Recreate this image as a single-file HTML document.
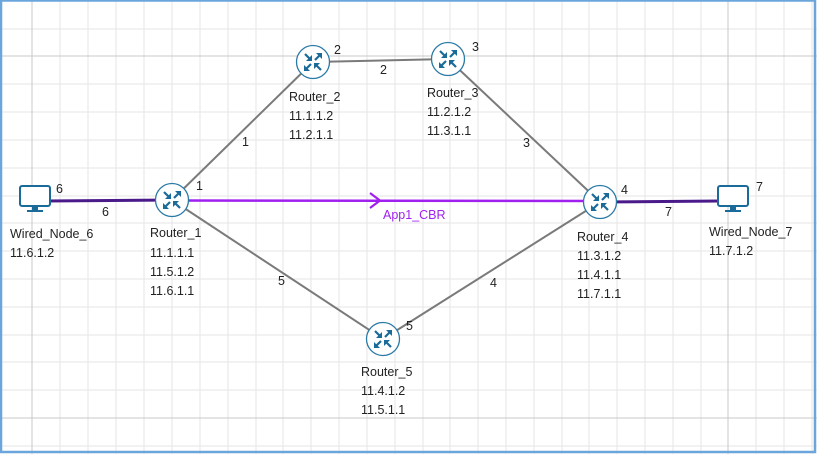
<!DOCTYPE html>
<html><head><meta charset="utf-8"><style>
html,body{margin:0;padding:0;background:#fff}
svg{display:block}
text{font-family:"Liberation Sans",sans-serif;font-size:12.5px;fill:#222}
</style></head><body>
<svg width="817" height="454" viewBox="0 0 817 454" xmlns="http://www.w3.org/2000/svg">
<defs>
<g id="rt">
<circle r="16.5" fill="#fff" stroke="#2a7aa6" stroke-width="1.3"/>
<g stroke="#1b6b9a" stroke-width="2.2" fill="#1b6b9a">
<line x1="2" y1="-2" x2="8" y2="-8"/><polygon points="9,-9 3,-9 9,-3" stroke="none"/>
<line x1="-2" y1="2" x2="-8" y2="8"/><polygon points="-9,9 -3,9 -9,3" stroke="none"/>
<line x1="-8" y1="-8" x2="-3" y2="-3"/><polygon points="-1,-1 -7,-1 -1,-7" stroke="none"/>
<line x1="8" y1="8" x2="3" y2="3"/><polygon points="1,1 7,1 1,7" stroke="none"/>
</g>
</g>
<g id="pc">
<rect x="-15" y="-13" width="30" height="20" rx="2" fill="#fff" stroke="#1b6b9a" stroke-width="2"/>
<rect x="-3" y="7" width="6" height="4" fill="#1b6b9a"/>
<rect x="-8" y="11" width="16" height="2" fill="#1b6b9a"/>
</g>
</defs>
<g stroke="#e6e6e6" stroke-width="1">
<line x1="60" y1="0" x2="60" y2="454"/><line x1="88" y1="0" x2="88" y2="454"/><line x1="116" y1="0" x2="116" y2="454"/><line x1="144" y1="0" x2="144" y2="454"/><line x1="172" y1="0" x2="172" y2="454"/><line x1="200" y1="0" x2="200" y2="454"/><line x1="228" y1="0" x2="228" y2="454"/><line x1="256" y1="0" x2="256" y2="454"/><line x1="283" y1="0" x2="283" y2="454"/><line x1="311" y1="0" x2="311" y2="454"/><line x1="339" y1="0" x2="339" y2="454"/><line x1="367" y1="0" x2="367" y2="454"/><line x1="395" y1="0" x2="395" y2="454"/><line x1="423" y1="0" x2="423" y2="454"/><line x1="450" y1="0" x2="450" y2="454"/><line x1="478" y1="0" x2="478" y2="454"/><line x1="506" y1="0" x2="506" y2="454"/><line x1="534" y1="0" x2="534" y2="454"/><line x1="562" y1="0" x2="562" y2="454"/><line x1="589" y1="0" x2="589" y2="454"/><line x1="617" y1="0" x2="617" y2="454"/><line x1="645" y1="0" x2="645" y2="454"/><line x1="673" y1="0" x2="673" y2="454"/><line x1="701" y1="0" x2="701" y2="454"/><line x1="756" y1="0" x2="756" y2="454"/><line x1="784" y1="0" x2="784" y2="454"/><line x1="812" y1="0" x2="812" y2="454"/>
<line x1="0" y1="29" x2="817" y2="29"/><line x1="0" y1="84" x2="817" y2="84"/><line x1="0" y1="112" x2="817" y2="112"/><line x1="0" y1="140" x2="817" y2="140"/><line x1="0" y1="168" x2="817" y2="168"/><line x1="0" y1="196" x2="817" y2="196"/><line x1="0" y1="223" x2="817" y2="223"/><line x1="0" y1="251" x2="817" y2="251"/><line x1="0" y1="279" x2="817" y2="279"/><line x1="0" y1="307" x2="817" y2="307"/><line x1="0" y1="335" x2="817" y2="335"/><line x1="0" y1="362" x2="817" y2="362"/><line x1="0" y1="390" x2="817" y2="390"/><line x1="0" y1="446" x2="817" y2="446"/>
</g>
<g stroke="#c8c8c8" stroke-width="1">
<line x1="32" y1="0" x2="32" y2="454"/><line x1="728" y1="0" x2="728" y2="454"/>
<line x1="0" y1="56" x2="817" y2="56"/><line x1="0" y1="418" x2="817" y2="418"/>
</g>
<rect x="1" y="0.5" width="814" height="451.5" fill="none" stroke="#6aa6dc" stroke-width="2.5"/>
<g stroke="#7a7a7a" stroke-width="2">
<line x1="172" y1="200" x2="313" y2="62"/>
<line x1="313" y1="62" x2="448" y2="59"/>
<line x1="448" y1="59" x2="600" y2="202"/>
<line x1="172" y1="200" x2="383" y2="339"/>
<line x1="383" y1="339" x2="600" y2="202"/>
</g>
<line x1="46" y1="201" x2="172" y2="200" stroke="#4a1a8a" stroke-width="3"/>
<line x1="600" y1="202" x2="720" y2="201" stroke="#4a1a8a" stroke-width="3"/>
<line x1="172" y1="200.5" x2="600" y2="201" stroke="#a020f0" stroke-width="2.5"/>
<polyline points="370,193 380,200.5 370,208" fill="none" stroke="#a020f0" stroke-width="2.2"/>
<text x="383" y="219" style="fill:#a020f0">App1_CBR</text>
<use href="#rt" x="172" y="200"/><use href="#rt" x="313" y="62"/><use href="#rt" x="448" y="59"/><use href="#rt" x="600" y="202"/><use href="#rt" x="383" y="339"/>
<use href="#pc" x="35" y="199"/><use href="#pc" x="733" y="199"/>
<text x="56" y="193">6</text><text x="102" y="216">6</text><text x="196" y="190">1</text>
<text x="242" y="146">1</text><text x="334" y="54">2</text><text x="380" y="74">2</text><text x="472" y="51">3</text>
<text x="523" y="147">3</text><text x="621" y="194">4</text><text x="665" y="216">7</text><text x="756" y="191">7</text>
<text x="278" y="285">5</text><text x="490" y="287">4</text><text x="406" y="330">5</text>
<text x="10" y="238">Wired_Node_6</text><text x="10" y="257">11.6.1.2</text>
<text x="150" y="237">Router_1</text><text x="150" y="257">11.1.1.1</text><text x="150" y="276">11.5.1.2</text><text x="150" y="295">11.6.1.1</text>
<text x="289" y="101">Router_2</text><text x="289" y="120">11.1.1.2</text><text x="289" y="139">11.2.1.1</text>
<text x="427" y="97">Router_3</text><text x="427" y="116">11.2.1.2</text><text x="427" y="135">11.3.1.1</text>
<text x="577" y="241">Router_4</text><text x="577" y="260">11.3.1.2</text><text x="577" y="279">11.4.1.1</text><text x="577" y="298">11.7.1.1</text>
<text x="361" y="376">Router_5</text><text x="361" y="395">11.4.1.2</text><text x="361" y="414">11.5.1.1</text>
<text x="709" y="236">Wired_Node_7</text><text x="709" y="255">11.7.1.2</text>
</svg>
</body></html>
